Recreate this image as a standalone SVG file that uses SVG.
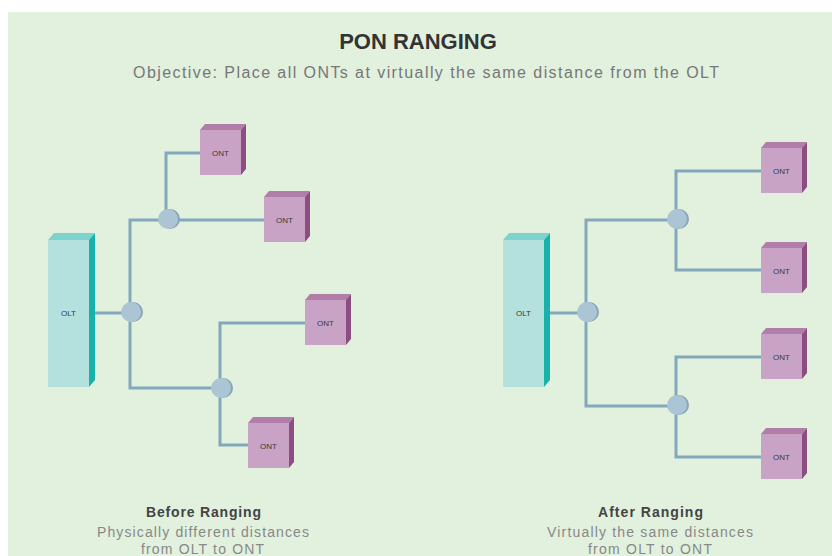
<svg xmlns="http://www.w3.org/2000/svg" width="832" height="556" viewBox="0 0 832 556">
<defs>
<style>
.bg{fill:#e2f0de}
.ln{fill:none;stroke:#84a8bb;stroke-width:3}
.sp-s{fill:#88a6b8}
.sp{fill:#abc5d4}
.of{fill:#b4e1de}.ot{fill:#7fd3cd}.os{fill:#17b3aa}
.nf{fill:#c9a3c5}.nt{fill:#b07ea8}.ns{fill:#8c4d80}
.lbl{font-family:"Liberation Sans",Arial,sans-serif;font-size:8px;fill:#3a3a3a;text-anchor:middle}
.title{font-family:"Liberation Sans",Arial,sans-serif;font-size:22px;font-weight:bold;fill:#333;text-anchor:middle}
.sub{font-family:"Liberation Sans",Arial,sans-serif;font-size:16px;fill:#777;text-anchor:middle}
.cap{font-family:"Liberation Sans",Arial,sans-serif;font-size:14px;font-weight:bold;fill:#444;text-anchor:middle}
.capd{font-family:"Liberation Sans",Arial,sans-serif;font-size:14px;fill:#888;text-anchor:middle}
</style>
<g id="ontShape">
<polygon class="nt" points="0,0 5,-6 46,-6 41,0"/>
<polygon class="ns" points="41,0 46,-6 46,39 41,45"/>
<rect class="nf" x="0" y="0" width="41" height="45"/>
<text class="lbl" x="20.5" y="25.5">ONT</text>
</g>
<g id="oltShape">
<polygon class="ot" points="0,0 6,-7 47,-7 41,0"/>
<polygon class="os" points="41,0 47,-7 47,140 41,147"/>
<rect class="of" x="0" y="0" width="41" height="147"/>
<text class="lbl" x="20.5" y="76">OLT</text>
</g>
<g id="splShape">
<circle class="sp-s" cx="2" cy="0" r="10"/>
<circle class="sp" cx="0" cy="0" r="10"/>
</g>
</defs>
<rect class="bg" x="8" y="12" width="824" height="544"/>
<text class="title" x="418" y="49">PON RANGING</text>
<text class="sub" x="426" y="78" textLength="586" lengthAdjust="spacing">Objective: Place all ONTs at virtually the same distance from the OLT</text>
<g id="connectors">
<path class="ln" d="M95,313 H131"/>
<path class="ln" d="M168,220 H130 V388 H221"/>
<path class="ln" d="M200,153 H166 V220 H264"/>
<path class="ln" d="M305,323 H220 V445 H248"/>
<path class="ln" d="M549,313 H587"/>
<path class="ln" d="M677,220 H586 V406 H677"/>
<path class="ln" d="M761,171 H676 V270 H761"/>
<path class="ln" d="M761,357 H676 V457 H761"/>
</g>
<g id="olt-left"><use href="#oltShape" x="48" y="240"/></g>
<g id="olt-right"><use href="#oltShape" x="503" y="240"/></g>
<g id="spl-l1"><use href="#splShape" x="131" y="312"/></g>
<g id="spl-l2"><use href="#splShape" x="168" y="219"/></g>
<g id="spl-l3"><use href="#splShape" x="221" y="388"/></g>
<g id="spl-r1"><use href="#splShape" x="587" y="312"/></g>
<g id="spl-r2"><use href="#splShape" x="677" y="219"/></g>
<g id="spl-r3"><use href="#splShape" x="677" y="405"/></g>
<g id="ont-l1"><use href="#ontShape" x="200" y="130"/></g>
<g id="ont-l2"><use href="#ontShape" x="264" y="197"/></g>
<g id="ont-l3"><use href="#ontShape" x="305" y="300"/></g>
<g id="ont-l4"><use href="#ontShape" x="248" y="423"/></g>
<g id="ont-r1"><use href="#ontShape" x="761" y="148"/></g>
<g id="ont-r2"><use href="#ontShape" x="761" y="248"/></g>
<g id="ont-r3"><use href="#ontShape" x="761" y="334"/></g>
<g id="ont-r4"><use href="#ontShape" x="761" y="434"/></g>
<g id="caption-left">
<text class="cap" x="203.5" y="517" textLength="115" lengthAdjust="spacing">Before Ranging</text>
<text class="capd" x="203" y="537" textLength="212" lengthAdjust="spacing">Physically different distances</text>
<text class="capd" x="202.5" y="554" textLength="123" lengthAdjust="spacing">from OLT to ONT</text>
</g>
<g id="caption-right">
<text class="cap" x="650.5" y="517" textLength="105" lengthAdjust="spacing">After Ranging</text>
<text class="capd" x="650" y="537" textLength="206" lengthAdjust="spacing">Virtually the same distances</text>
<text class="capd" x="650" y="554" textLength="124" lengthAdjust="spacing">from OLT to ONT</text>
</g>
</svg>
